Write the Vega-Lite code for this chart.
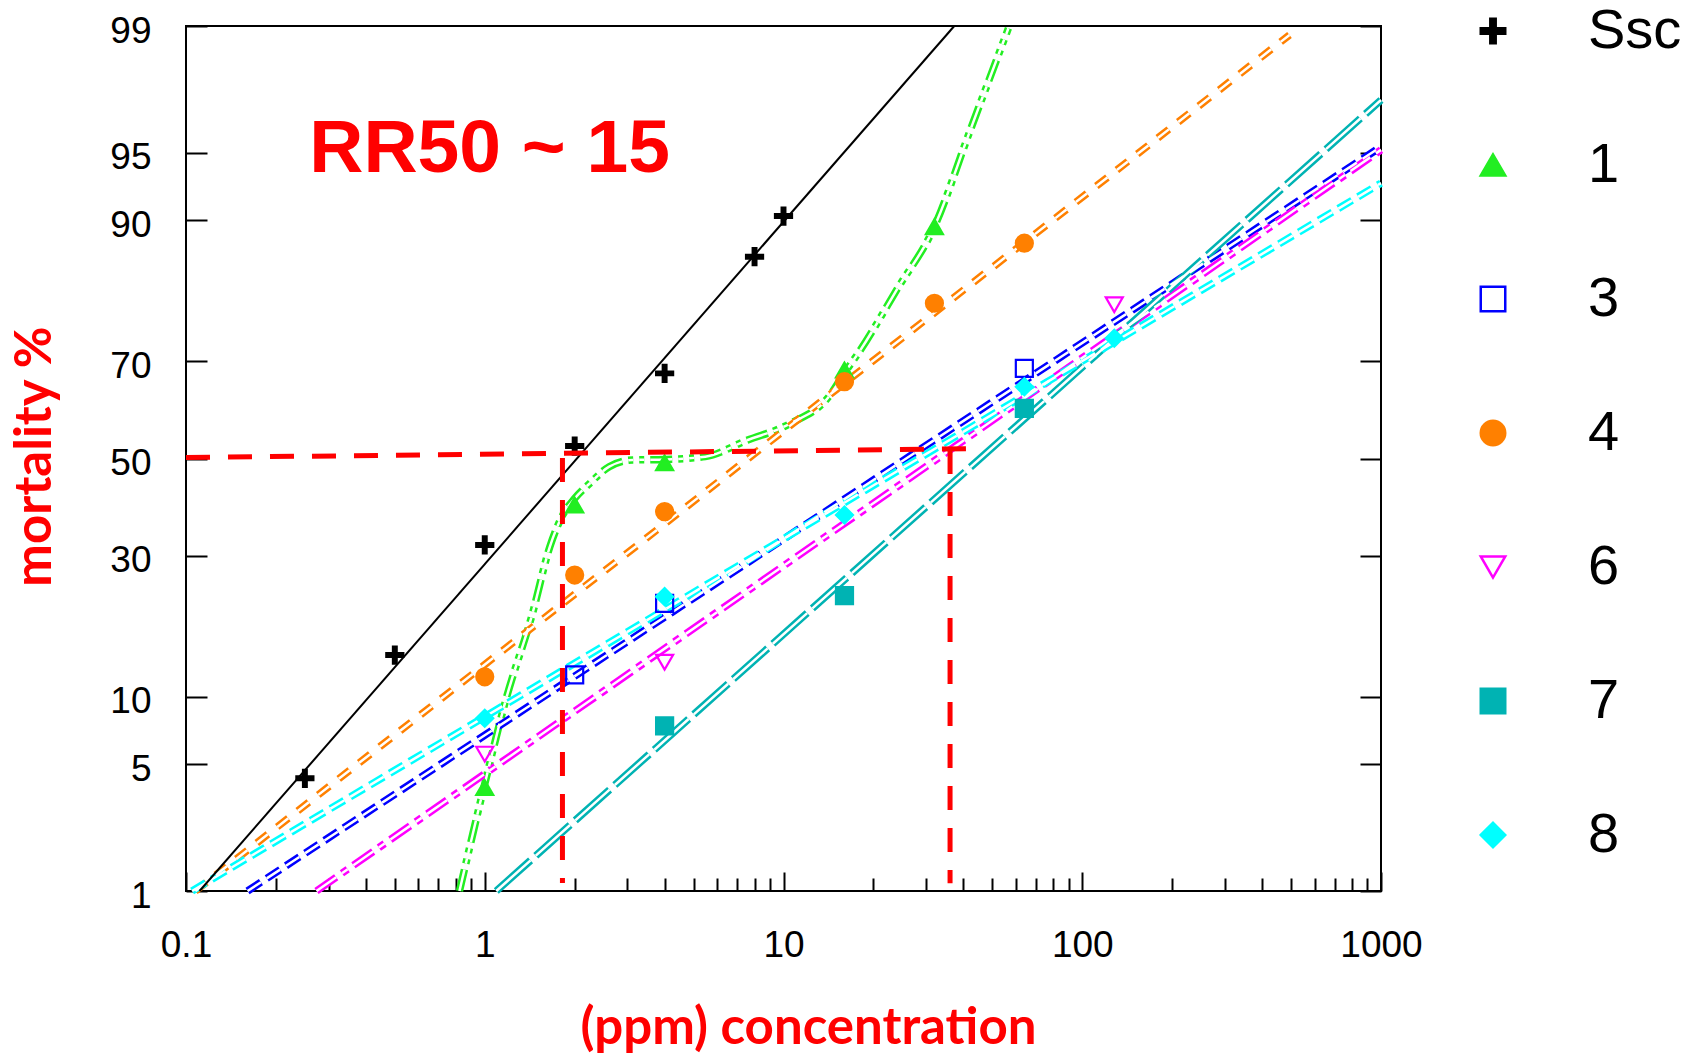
{
  "$schema": "https://vega.github.io/schema/vega-lite/v6.json",
  "width": 1195,
  "height": 865,
  "autosize": {"type": "none"},
  "padding": {"left": 186, "top": 26, "right": 319, "bottom": 168},
  "background": "white",
  "config": {
    "view": {"stroke": "black", "strokeWidth": 2},
    "axis": {"grid": false, "domain": false, "tickColor": "black", "tickWidth": 2, "labelColor": "black", "labelFont": "Liberation Sans"},
    "font": "Liberation Sans"
  },
  "datasets": {
    "fits": [
      {"series": "1", "conc": 0.823, "mortality": 1.0, "probit": -2.3263},
      {"series": "1", "conc": 1.0, "mortality": 4.0, "probit": -1.75},
      {"series": "1", "conc": 1.176, "mortality": 9.7, "probit": -1.299},
      {"series": "1", "conc": 1.445, "mortality": 20.2, "probit": -0.833},
      {"series": "1", "conc": 1.652, "mortality": 31.8, "probit": -0.474},
      {"series": "1", "conc": 1.83, "mortality": 38.2, "probit": -0.30},
      {"series": "1", "conc": 2.0, "mortality": 41.5, "probit": -0.215},
      {"series": "1", "conc": 2.25, "mortality": 44.7, "probit": -0.133},
      {"series": "1", "conc": 2.61, "mortality": 48.2, "probit": -0.044},
      {"series": "1", "conc": 3.12, "mortality": 49.7, "probit": -0.008},
      {"series": "1", "conc": 4.0, "mortality": 49.8, "probit": -0.005},
      {"series": "1", "conc": 5.47, "mortality": 50.4, "probit": 0.010},
      {"series": "1", "conc": 7.55, "mortality": 53.9, "probit": 0.098},
      {"series": "1", "conc": 10.5, "mortality": 57.4, "probit": 0.187},
      {"series": "1", "conc": 14.3, "mortality": 63.3, "probit": 0.340},
      {"series": "1", "conc": 16.0, "mortality": 67.7, "probit": 0.46},
      {"series": "1", "conc": 18.1, "mortality": 72.0, "probit": 0.584},
      {"series": "1", "conc": 23.9, "mortality": 81.8, "probit": 0.906},
      {"series": "1", "conc": 32.0, "mortality": 89.4, "probit": 1.247},
      {"series": "1", "conc": 41.8, "mortality": 96.0, "probit": 1.749},
      {"series": "1", "conc": 56.6, "mortality": 99.0, "probit": 2.314},
      {"series": "3", "conc": 0.1607, "mortality": 1.0, "probit": -2.3263},
      {"series": "3", "conc": 1000, "mortality": 95.3, "probit": 1.677},
      {"series": "4", "conc": 0.1075, "mortality": 1.0, "probit": -2.3263},
      {"series": "4", "conc": 494, "mortality": 98.9, "probit": 2.278},
      {"series": "6", "conc": 0.2734, "mortality": 1.0, "probit": -2.3263},
      {"series": "6", "conc": 1000, "mortality": 95.2, "probit": 1.66},
      {"series": "7", "conc": 1.093, "mortality": 1.0, "probit": -2.3263},
      {"series": "7", "conc": 1000, "mortality": 97.3, "probit": 1.928},
      {"series": "8", "conc": 0.1048, "mortality": 1.0, "probit": -2.3263},
      {"series": "8", "conc": 1000, "mortality": 93.1, "probit": 1.481}
    ],
    "sscfit": [
      {"series": "Ssc", "conc": 0.111, "mortality": 1.0, "probit": -2.3263},
      {"series": "Ssc", "conc": 37.3, "mortality": 99.0, "probit": 2.3263}
    ],
    "points": [
      {"series": "Ssc", "conc": 0.25, "mortality": 4.3, "probit": -1.720},
      {"series": "Ssc", "conc": 0.5, "mortality": 14.5, "probit": -1.057},
      {"series": "Ssc", "conc": 1, "mortality": 32.1, "probit": -0.465},
      {"series": "Ssc", "conc": 2, "mortality": 52.7, "probit": 0.067},
      {"series": "Ssc", "conc": 4, "mortality": 67.7, "probit": 0.458},
      {"series": "Ssc", "conc": 8, "mortality": 86.1, "probit": 1.0855},
      {"series": "Ssc", "conc": 10, "mortality": 90.4, "probit": 1.304},
      {"series": "1", "conc": 1, "mortality": 3.8, "probit": -1.770},
      {"series": "1", "conc": 2, "mortality": 40.1, "probit": -0.250},
      {"series": "1", "conc": 4, "mortality": 49.1, "probit": -0.023},
      {"series": "1", "conc": 16, "mortality": 68.3, "probit": 0.476},
      {"series": "1", "conc": 32, "mortality": 89.4, "probit": 1.247},
      {"series": "3", "conc": 2, "mortality": 12.2, "probit": -1.164},
      {"series": "3", "conc": 4, "mortality": 21.8, "probit": -0.779},
      {"series": "3", "conc": 64, "mortality": 68.6, "probit": 0.485},
      {"series": "4", "conc": 1, "mortality": 12.0, "probit": -1.174},
      {"series": "4", "conc": 2, "mortality": 26.5, "probit": -0.627},
      {"series": "4", "conc": 4, "mortality": 38.7, "probit": -0.286},
      {"series": "4", "conc": 16, "mortality": 66.0, "probit": 0.413},
      {"series": "4", "conc": 32, "mortality": 79.8, "probit": 0.835},
      {"series": "4", "conc": 64, "mortality": 87.7, "probit": 1.158},
      {"series": "6", "conc": 1, "mortality": 5.6, "probit": -1.59},
      {"series": "6", "conc": 4, "mortality": 13.7, "probit": -1.096},
      {"series": "6", "conc": 128, "mortality": 79.6, "probit": 0.827},
      {"series": "7", "conc": 4, "mortality": 7.5, "probit": -1.438},
      {"series": "7", "conc": 16, "mortality": 23.1, "probit": -0.737},
      {"series": "7", "conc": 64, "mortality": 60.6, "probit": 0.270},
      {"series": "8", "conc": 1, "mortality": 8.1, "probit": -1.397},
      {"series": "8", "conc": 4, "mortality": 22.9, "probit": -0.743},
      {"series": "8", "conc": 16, "mortality": 38.1, "probit": -0.304},
      {"series": "8", "conc": 64, "mortality": 65.0, "probit": 0.386},
      {"series": "8", "conc": 128, "mortality": 74.1, "probit": 0.647}
    ],
    "guides": [
      {"g": "h", "conc": 0.1, "mortality": 50.2, "probit": 0.005},
      {"g": "h", "conc": 44.6, "mortality": 52.1, "probit": 0.053},
      {"g": "v1", "conc": 1.82, "mortality": 50.1, "probit": 0.003},
      {"g": "v1", "conc": 1.82, "mortality": 1.1, "probit": -2.283},
      {"g": "v2", "conc": 36.1, "mortality": 51.8, "probit": 0.046},
      {"g": "v2", "conc": 36.1, "mortality": 1.1, "probit": -2.285}
    ],
    "notes": [
      {"label": "RR50 ~ 15"}
    ]
  },
  "layer": [
    {
      "layer": [
        {
          "data": {"name": "fits"},
          "mark": {"type": "line", "strokeWidth": 7.5, "interpolate": "monotone"},
          "encoding": {
            "x": {
              "field": "conc", "type": "quantitative",
              "scale": {"type": "log", "domain": [0.1, 1000], "nice": false},
              "axis": {
                "values": [0.1, 0.2, 0.3, 0.4, 0.5, 0.6, 0.7, 0.8, 0.9, 1, 2, 3, 4, 5, 6, 7, 8, 9, 10, 20, 30, 40, 50, 60, 70, 80, 90, 100, 200, 300, 400, 500, 600, 700, 800, 900, 1000],
                "tickSize": {"condition": {"test": "datum.value == 0.1 || datum.value == 1 || datum.value == 10 || datum.value == 100 || datum.value == 1000", "value": -19}, "value": -13},
                "labelExpr": "(datum.value == 0.1 || datum.value == 1 || datum.value == 10 || datum.value == 100 || datum.value == 1000) ? '' + datum.value : ''",
                "labelFontSize": 37,
                "labelPadding": 55,
                "labelFlush": false,
                "labelOverlap": false,
                "labelBound": false,
                "title": "(ppm) concentration",
                "titleFont": "Lato",
                "titleFontWeight": "bold",
                "titleFontSize": 51,
                "titleColor": "#ff0000",
                "titleX": 622,
                "titleY": 152,
                "titleAlign": "center",
                "titleBaseline": "alphabetic"
              }
            },
            "y": {
              "field": "probit", "type": "quantitative",
              "scale": {"domain": [-2.3263, 2.3263], "nice": false, "zero": false},
              "axis": {
                "values": [-2.3263, -1.6449, -1.2816, -0.5244, 0, 0.5244, 1.2816, 1.6449, 2.3263],
                "tickSize": -21,
                "labelExpr": "datum.value < -2 ? '1' : datum.value < -1.5 ? '5' : datum.value < -1 ? '10' : datum.value < -0.3 ? '30' : datum.value < 0.3 ? '50' : datum.value < 1 ? '70' : datum.value < 1.5 ? '90' : datum.value < 2 ? '95' : '99'",
                "labelFontSize": 37,
                "labelPadding": 56,
                "labelOffset": 5,
                "labelFlush": false,
                "labelOverlap": false,
                "labelBound": false,
                "title": "mortality %",
                "titleFont": "Lato",
                "titleFontWeight": "bold",
                "titleFontSize": 51,
                "titleColor": "#ff0000",
                "titleAngle": 270,
                "titleX": -136,
                "titleY": 430,
                "titleAlign": "center",
                "titleBaseline": "alphabetic"
              }
            },
            "color": {
              "field": "series", "type": "nominal",
              "scale": {"domain": ["1", "3", "4", "6", "7", "8"], "range": ["#22ee22", "#0000ff", "#ff8000", "#ff00ff", "#00b3b3", "#00ffff"]},
              "legend": null
            },
            "strokeDash": {
              "field": "series", "type": "nominal",
              "scale": {"domain": ["1", "3", "4", "6", "7", "8"], "range": [[22, 6, 5, 6, 5, 6], [16, 7], [14, 12], [24, 7, 7, 7], [46, 7], [16, 7]]},
              "legend": null
            }
          }
        },
        {
          "data": {"name": "fits"},
          "mark": {"type": "line", "strokeWidth": 2.5, "interpolate": "monotone", "color": "white"},
          "encoding": {
            "x": {"field": "conc", "type": "quantitative", "scale": {"type": "log", "domain": [0.1, 1000], "nice": false}},
            "y": {"field": "probit", "type": "quantitative", "scale": {"domain": [-2.3263, 2.3263], "nice": false, "zero": false}},
            "detail": {"field": "series", "type": "nominal"},
            "strokeDash": {
              "field": "series", "type": "nominal",
              "scale": {"domain": ["1", "3", "4", "6", "7", "8"], "range": [[22, 6, 5, 6, 5, 6], [16, 7], [14, 12], [24, 7, 7, 7], [46, 7], [16, 7]]},
              "legend": null
            }
          }
        },
        {
          "data": {"name": "sscfit"},
          "mark": {"type": "line", "strokeWidth": 2, "color": "black"},
          "encoding": {
            "x": {"field": "conc", "type": "quantitative", "scale": {"type": "log", "domain": [0.1, 1000], "nice": false}},
            "y": {"field": "probit", "type": "quantitative", "scale": {"domain": [-2.3263, 2.3263], "nice": false, "zero": false}}
          }
        },
        {
          "data": {"name": "points"},
          "mark": {"type": "point", "size": 290, "strokeWidth": 2.2, "opacity": 1},
          "encoding": {
            "x": {"field": "conc", "type": "quantitative", "scale": {"type": "log", "domain": [0.1, 1000], "nice": false}},
            "y": {"field": "probit", "type": "quantitative", "scale": {"domain": [-2.3263, 2.3263], "nice": false, "zero": false}},
            "shape": {
              "field": "series", "type": "nominal",
              "scale": {"domain": ["Ssc", "1", "3", "4", "6", "7", "8"], "range": ["M-1,-0.22H-0.22V-1H0.22V-0.22H1V0.22H0.22V1H-0.22V0.22H-1Z", "triangle-up", "square", "circle", "triangle-down", "square", "diamond"]},
              "legend": {"orient": "none", "legendX": 1279, "legendY": -23, "title": null, "labelFontSize": 56, "labelFont": "Liberation Sans", "labelColor": "black", "symbolSize": 600, "symbolStrokeWidth": 2.5, "rowPadding": 78, "labelOffset": 67, "padding": 0, "symbolOpacity": 1, "labelLimit": 400}
            },
            "fill": {
              "field": "series", "type": "nominal",
              "scale": {"domain": ["Ssc", "1", "3", "4", "6", "7", "8"], "range": ["black", "#22ee22", "transparent", "#ff8000", "transparent", "#00b3b3", "#00ffff"]},
              "legend": {"orient": "none", "legendX": 1279, "legendY": -23, "title": null, "labelFontSize": 56, "labelFont": "Liberation Sans", "labelColor": "black", "symbolSize": 600, "symbolStrokeWidth": 2.5, "rowPadding": 78, "labelOffset": 67, "padding": 0, "symbolOpacity": 1, "labelLimit": 400}
            },
            "stroke": {
              "field": "series", "type": "nominal",
              "scale": {"domain": ["Ssc", "1", "3", "4", "6", "7", "8"], "range": ["black", "#22ee22", "#0000ff", "#ff8000", "#ff00ff", "#00b3b3", "#00ffff"]},
              "legend": {"orient": "none", "legendX": 1279, "legendY": -23, "title": null, "labelFontSize": 56, "labelFont": "Liberation Sans", "labelColor": "black", "symbolSize": 600, "symbolStrokeWidth": 2.5, "rowPadding": 78, "labelOffset": 67, "padding": 0, "symbolOpacity": 1, "labelLimit": 400}
            }
          }
        },
        {
          "data": {"name": "notes"},
          "mark": {"type": "text", "font": "Liberation Sans", "fontWeight": "bold", "fontSize": 75, "color": "#ff0000", "align": "center", "baseline": "alphabetic"},
          "encoding": {
            "x": {"datum": 1.038, "type": "quantitative", "scale": {"type": "log", "domain": [0.1, 1000], "nice": false}},
            "y": {"datum": 1.541, "type": "quantitative", "scale": {"domain": [-2.3263, 2.3263], "nice": false, "zero": false}},
            "text": {"field": "label"}
          }
        }
      ]
    },
    {
      "data": {"name": "guides"},
      "mark": {"type": "line", "strokeWidth": 5, "color": "#ff0000", "strokeDash": [24, 18]},
      "encoding": {
        "x": {"field": "conc", "type": "quantitative", "scale": {"type": "log", "domain": [0.1, 1000], "nice": false}},
        "y": {
          "field": "probit", "type": "quantitative",
          "scale": {"domain": [-2.3263, 2.3263], "nice": false, "zero": false},
          "axis": {
            "orient": "right",
            "values": [-2.3263, -1.6449, -1.2816, -0.5244, 0, 0.5244, 1.2816, 1.6449, 2.3263],
            "tickSize": -21,
            "labels": false,
            "domain": false,
            "title": null
          }
        },
        "detail": {"field": "g", "type": "nominal"}
      }
    }
  ],
  "resolve": {"scale": {"y": "independent"}}
}
